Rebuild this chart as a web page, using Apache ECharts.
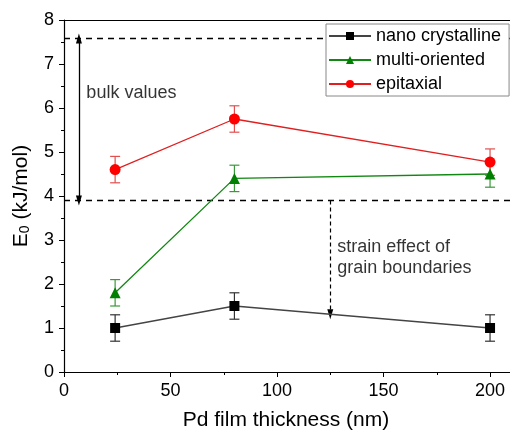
<!DOCTYPE html>
<html><head><meta charset="utf-8">
<script src="https://cdn.jsdelivr.net/npm/echarts@6/dist/echarts.min.js"></script>
<style>html,body{margin:0;padding:0;background:#fff;overflow:hidden;width:510px;height:436px}#c{width:522px;height:436px}</style>
</head><body><div id="c"></div>
<script>
const thickness = [24, 80, 200];
const nanoVals = [1.0, 1.5, 1.0];
const multiVals = [1.8, 4.4, 4.5];
const epiVals = [4.6, 5.75, 4.77];
const nanoErr = [0.3, 0.3, 0.3];
const multiErr = [0.3, 0.3, 0.3];
const epiErr = [0.3, 0.3, 0.3];
const xTicks = [0, 50, 100, 150, 200];
const bulkHigh = 7.58, bulkLow = 3.9;
const bulkArrowX = 7;
const strainArrow = [125, 3.9, 1.31];
const textBulk = [10.5, 6.34, 'bulk values'];
const textStrain = [128.3, 2.6, 'strain effect of\ngrain boundaries'];

const FONT = 'Liberation Sans, Arial, sans-serif';
const XMAX = 215;
const pts = v => thickness.map((x, i) => [x, v[i]]);
const errPts = (v, e) => thickness.map((x, i) => [x, v[i], e[i]]);

function errSeries(v, e, color) {
  return {
    type: 'custom', silent: true, z: 3,
    data: errPts(v, e),
    renderItem: (params, api) => {
      const x = api.value(0), y = api.value(1), d = api.value(2);
      const top = api.coord([x, y + d]), bot = api.coord([x, y - d]);
      const w = 5;
      const st = { stroke: color, lineWidth: 1.2 };
      return { type: 'group', children: [
        { type: 'line', shape: { x1: top[0], y1: top[1], x2: bot[0], y2: bot[1] }, style: st },
        { type: 'line', shape: { x1: top[0] - w, y1: top[1], x2: top[0] + w, y2: top[1] }, style: st },
        { type: 'line', shape: { x1: bot[0] - w, y1: bot[1], x2: bot[0] + w, y2: bot[1] }, style: st }
      ]};
    }
  };
}

const chart = echarts.init(document.getElementById('c'));
chart.setOption({
  animation: false,
  textStyle: { fontFamily: FONT },
  grid: { left: 64, right: 0, top: 20, bottom: 64, show: false },
  legend: {
    z: 20,
    orient: 'vertical', left: 326, top: 24,
    itemWidth: 42, itemHeight: 10, itemGap: 6,
    padding: [3, 8, 3, 2],
    backgroundColor: '#fff', borderColor: '#888', borderWidth: 1,
    textStyle: { fontSize: 18, color: '#000', fontFamily: FONT },
    data: ['nano crystalline', 'multi-oriented', 'epitaxial']
  },
  xAxis: [{
    type: 'value', min: 0, max: XMAX, interval: 50,
    name: 'Pd film thickness (nm)', nameLocation: 'middle', nameGap: 38,
    nameTextStyle: { fontSize: 21, color: '#000', fontFamily: FONT, padding: [0, 14, 0, 0] },
    axisLine: { lineStyle: { color: '#000', width: 1.2 } },
    axisTick: { show: true, length: 5, customValues: xTicks, lineStyle: { color: '#000' } },
    minorTick: { show: true, splitNumber: 2, length: 3, lineStyle: { color: '#000' } },
    axisLabel: { fontSize: 18, color: '#000', margin: 10, customValues: xTicks, fontFamily: FONT },
    splitLine: { show: false }
  }, {
    type: 'value', position: 'top', min: 0, max: XMAX,
    axisLine: { show: true, lineStyle: { color: '#000', width: 1.2 } },
    axisTick: { show: false }, axisLabel: { show: false }, splitLine: { show: false }
  }],
  yAxis: {
    type: 'value', min: 0, max: 8, interval: 1,
    name: 'E{sub|0} (kJ/mol)', nameLocation: 'middle', nameGap: 32,
    nameTextStyle: { fontSize: 21, color: '#000', fontFamily: FONT,
      rich: { sub: { fontSize: 14, verticalAlign: 'bottom', padding: [8, 0, 0, 0], fontFamily: FONT } } },
    axisLine: { show: true, lineStyle: { color: '#000', width: 1.2 } },
    axisTick: { show: true, length: 5, lineStyle: { color: '#000' } },
    minorTick: { show: true, splitNumber: 2, length: 3, lineStyle: { color: '#000' } },
    axisLabel: { fontSize: 18, color: '#000', margin: 10, fontFamily: FONT },
    splitLine: { show: false }
  },
  series: [
    errSeries(nanoVals, nanoErr, '#333'),
    errSeries(multiVals, multiErr, '#3a9a3a'),
    errSeries(epiVals, epiErr, '#e05050'),
    {
      name: 'nano crystalline', type: 'line', data: pts(nanoVals), z: 4,
      symbol: 'rect', symbolSize: 10,
      lineStyle: { color: '#444', width: 1.3 }, itemStyle: { color: '#000' },
      markLine: {
        silent: true, animation: false, z: 1,
        label: { show: false },
        symbol: 'none',
        lineStyle: { color: '#000', type: [6, 5], width: 1.3 },
        data: [
          [{ coord: [0, bulkHigh] }, { coord: [XMAX, bulkHigh] }],
          [{ coord: [0, bulkLow] }, { coord: [XMAX, bulkLow] }],
          [{ coord: [bulkArrowX, bulkHigh], symbol: 'triangle', symbolSize: [6, 10] },
           { coord: [bulkArrowX, bulkLow], symbol: 'triangle', symbolSize: [6, 10],
             lineStyle: { type: 'solid', width: 1.3 } }],
          [{ coord: [strainArrow[0], strainArrow[1]], symbol: 'none' },
           { coord: [strainArrow[0], strainArrow[2]], symbol: 'triangle', symbolSize: [6, 10],
             lineStyle: { type: [4, 3], width: 1.2 } }]
        ]
      }
    },
    {
      name: 'multi-oriented', type: 'line', data: pts(multiVals), z: 4,
      symbol: 'triangle', symbolSize: 11,
      lineStyle: { color: '#118811', width: 1.3 }, itemStyle: { color: '#008000' }
    },
    {
      name: 'epitaxial', type: 'line', data: pts(epiVals), z: 4,
      symbol: 'circle', symbolSize: 11,
      lineStyle: { color: '#e02020', width: 1.3 }, itemStyle: { color: '#ff0000' }
    },
    {
      type: 'scatter', silent: true, symbolSize: 0, z: 5,
      data: [textBulk, textStrain],
      label: {
        show: true, position: 'right', distance: 0,
        formatter: p => p.data[2],
        fontSize: 18, color: '#000', lineHeight: 21, fontFamily: FONT
      }
    }
  ]
});
</script></body></html>
